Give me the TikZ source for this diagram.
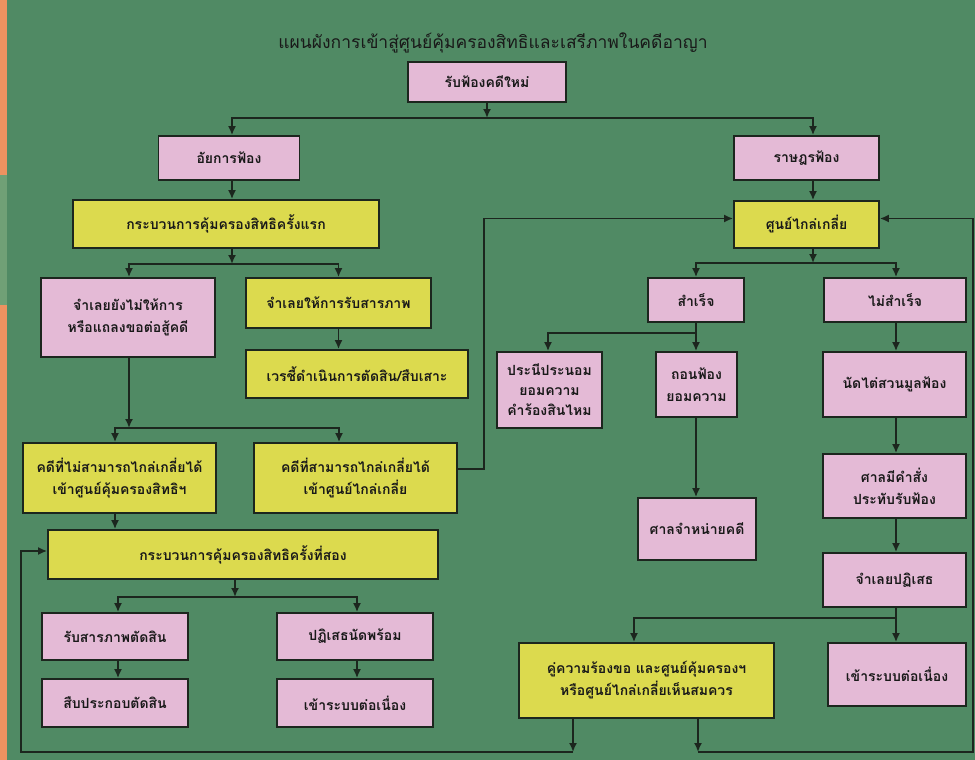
\documentclass[tikz,border=0pt]{standalone}
\usepackage{fontspec}
\newfontfamily\thaifont[Script=Thai]{Loma}
\usetikzlibrary{arrows.meta}
\definecolor{bggreen}{RGB}{80,138,100}
\definecolor{stripgreen}{RGB}{112,160,118}
\definecolor{orangestrip}{RGB}{238,146,96}
\definecolor{pinkbox}{RGB}{228,186,214}
\definecolor{yellowbox}{RGB}{220,218,78}
\definecolor{lineclr}{RGB}{28,38,30}
\tikzset{
  x=1pt, y=-1pt,
  box/.style={draw=lineclr, line width=1.8pt, align=center, inner sep=2pt,
    font=\thaifont\bfseries\fontsize{14}{22}\selectfont, text=black!90},
  pbox/.style={box, fill=pinkbox},
  ybox/.style={box, fill=yellowbox},
  conn/.style={draw=lineclr, line width=1.7pt},
  arr/.style={conn, -{Latex[length=9pt,width=8pt]}},
}
\begin{document}
\begin{tikzpicture}
\useasboundingbox (0,0) rectangle (975,760);
\fill[bggreen] (0,0) rectangle (975,760);
\fill[orangestrip] (0,0) rectangle (7,175);
\fill[stripgreen] (0,175) rectangle (7,305);
\fill[orangestrip] (0,305) rectangle (7,760);

\node[font=\thaifont\fontsize{17.5}{20}\selectfont, text=black!90] (title) at (493,43) {แผนผังการเข้าสู่ศูนย์คุ้มครองสิทธิและเสรีภาพในคดีอาญา};

% left column
\node[pbox, minimum width=158, minimum height=40] (new) at (487,82) {รับฟ้องคดีใหม่};
\node[pbox, minimum width=141, minimum height=44] (pros) at (229,158) {อัยการฟ้อง};
\node[ybox, minimum width=306, minimum height=48] (first) at (226,224) {กระบวนการคุ้มครองสิทธิครั้งแรก};
\node[pbox, minimum width=174, minimum height=79] (notplead) at (128,317.5) {จำเลยยังไม่ให้การ\\หรือแถลงขอต่อสู้คดี};
\node[ybox, minimum width=185, minimum height=50] (confess) at (338.5,303) {จำเลยให้การรับสารภาพ};
\node[ybox, minimum width=222, minimum height=48] (duty) at (357,374) {เวรชี้ดำเนินการตัดสิน/สืบเสาะ};
\node[ybox, minimum width=193, minimum height=70] (cannot) at (119.5,478) {คดีที่ไม่สามารถไกล่เกลี่ยได้\\เข้าศูนย์คุ้มครองสิทธิฯ};
\node[ybox, minimum width=203, minimum height=70] (can) at (355.5,478) {คดีที่สามารถไกล่เกลี่ยได้\\เข้าศูนย์ไกล่เกลี่ย};
\node[ybox, minimum width=390, minimum height=49] (second) at (243,554.5) {กระบวนการคุ้มครองสิทธิครั้งที่สอง};
\node[pbox, minimum width=146, minimum height=47] (plead) at (115,636.5) {รับสารภาพตัดสิน};
\node[pbox, minimum width=156, minimum height=47] (deny) at (355,636.5) {ปฏิเสธนัดพร้อม};
\node[pbox, minimum width=146, minimum height=48] (evid) at (115,703) {สืบประกอบตัดสิน};
\node[pbox, minimum width=156, minimum height=48] (contL) at (355,703) {เข้าระบบต่อเนื่อง};

% right column
\node[pbox, minimum width=145, minimum height=44] (priv) at (806.5,158) {ราษฎรฟ้อง};
\node[ybox, minimum width=145, minimum height=47] (medi) at (806.5,224.5) {ศูนย์ไกล่เกลี่ย};
\node[pbox, minimum width=96, minimum height=44] (succ) at (696,300) {สำเร็จ};
\node[pbox, minimum width=142, minimum height=44] (fail) at (895,300) {ไม่สำเร็จ};
\node[pbox, minimum width=105, minimum height=76, font=\thaifont\bfseries\fontsize{14}{20}\selectfont] (compro) at (549.5,390) {ประนีประนอม\\ยอมความ\\คำร้องสินไหม};
\node[pbox, minimum width=81, minimum height=65] (withdraw) at (696.5,384.5) {ถอนฟ้อง\\ยอมความ};
\node[pbox, minimum width=118, minimum height=62] (dismiss) at (697,529) {ศาลจำหน่ายคดี};
\node[pbox, minimum width=143, minimum height=65] (hearing) at (894.5,384.5) {นัดไต่สวนมูลฟ้อง};
\node[pbox, minimum width=143, minimum height=64] (accept) at (894.5,486) {ศาลมีคำสั่ง\\ประทับรับฟ้อง};
\node[pbox, minimum width=143, minimum height=54] (denyR) at (894.5,580) {จำเลยปฏิเสธ};
\node[ybox, minimum width=255, minimum height=75] (request) at (646.5,680.5) {คู่ความร้องขอ และศูนย์คุ้มครองฯ\\หรือศูนย์ไกล่เกลี่ยเห็นสมควร};
\node[pbox, minimum width=138, minimum height=63] (contR) at (897,674.5) {เข้าระบบต่อเนื่อง};

% junction coordinates
\coordinate (j1) at (487,118);
\coordinate (j2) at (232,264);
\coordinate (j3) at (129,428);
\coordinate (j4) at (235,597);
\coordinate (j5) at (813,263);
\coordinate (j6) at (696,333);
\coordinate (j7) at (896,618);
\coordinate (bl) at (573,752);
\coordinate (br) at (698,752);
\coordinate (lc) at (21,752);
\coordinate (rc) at (973,752);
\coordinate (mc) at (484,469);

% top split
\draw[arr] (new) -- (j1);
\draw[arr] (j1) -| ([xshift=3pt]pros.north);
\draw[arr] (j1) -| ([xshift=6.5pt]priv.north);

% left flow
\draw[arr] ([xshift=3pt]pros.south) -- ([xshift=3pt]pros.south |- first.north);
\draw[arr] (first.south -| j2) -- (j2);
\draw[arr] (j2) -| ([xshift=1pt]notplead.north);
\draw[arr] (j2) -| (confess.north);
\draw[arr] (confess.south) -- (confess.south |- duty.north);
\draw[arr] ([xshift=1pt]notplead.south) -- (j3);
\draw[arr] (j3) -| ([xshift=-4.5pt]cannot.north);
\draw[arr] (j3) -| ([xshift=-16.5pt]can.north);
\draw[arr] ([xshift=-4.5pt]cannot.south) -- ([xshift=-4.5pt]cannot.south |- second.north);
\draw[arr] ([yshift=9pt]can.east) -- (mc) |- ([yshift=6pt]medi.west);
\draw[arr] (second.south -| j4) -- (j4);
\draw[arr] (j4) -| ([xshift=3pt]plead.north);
\draw[arr] (j4) -| ([xshift=2pt]deny.north);
\draw[arr] ([xshift=3pt]plead.south) -- ([xshift=3pt]plead.south |- evid.north);
\draw[arr] ([xshift=2pt]deny.south) -- ([xshift=2pt]deny.south |- contL.north);

% right flow
\draw[arr] ([xshift=6.5pt]priv.south) -- ([xshift=6.5pt]priv.south |- medi.north);
\draw[arr] (medi.south -| j5) -- (j5);
\draw[arr] (j5) -| (succ.north);
\draw[arr] (j5) -| ([xshift=1pt]fail.north);
\draw[conn] (succ.south) -- (j6);
\draw[arr] (j6) -| ([xshift=-1.5pt]compro.north);
\draw[arr] (j6) -- (j6 |- withdraw.north);
\draw[arr] (withdraw.south -| j6) -- (j6 |- dismiss.north);
\draw[arr] ([xshift=1pt]fail.south) -- ([xshift=1pt]fail.south |- hearing.north);
\draw[arr] ([xshift=1.5pt]hearing.south) -- ([xshift=1.5pt]hearing.south |- accept.north);
\draw[arr] ([xshift=1.5pt]accept.south) -- ([xshift=1.5pt]accept.south |- denyR.north);
\draw[arr] ([xshift=1.5pt]denyR.south) -- ([xshift=1.5pt]denyR.south |- contR.north);
\draw[arr] (j7) -| ([xshift=-12.5pt]request.north);

% feedback loops
\draw[arr] (request.south -| bl) -- (bl);
\draw[arr] (bl) -- (lc) |- ([yshift=3.5pt]second.west);
\draw[arr] (request.south -| br) -- (br);
\draw[arr] (br) -- (rc) |- ([yshift=6pt]medi.east);
\end{tikzpicture}
\end{document}
